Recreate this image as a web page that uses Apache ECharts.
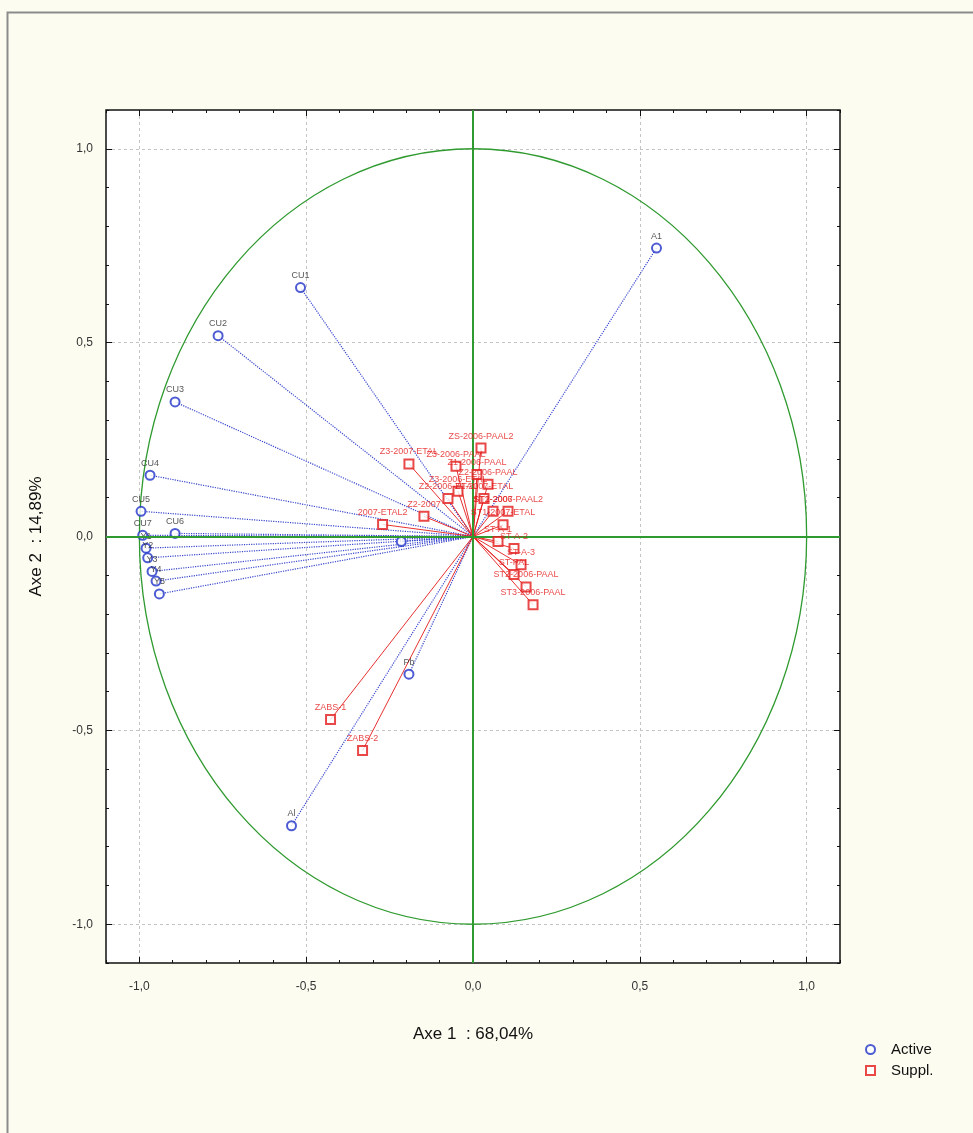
<!DOCTYPE html>
<html><head><meta charset="utf-8">
<script src="https://cdn.jsdelivr.net/npm/echarts@6/dist/echarts.min.js"></script>
<style>html,body{margin:0;padding:0;background:#fdfcf1}#c{width:973px;height:1133px}</style>
</head><body><div id="c"></div>
<script>
// ---- data ----
const tickValues = [-1, -0.5, 0, 0.5, 1];
const tickLabels = ['-1,0', '-0,5', '0,0', '0,5', '1,0'];
const minorTickValues = [-1.1, -1.0, -0.9, -0.8, -0.7, -0.6, -0.5, -0.4, -0.3, -0.2, -0.1, 0,
  0.1, 0.2, 0.3, 0.4, 0.5, 0.6, 0.7, 0.8, 0.9, 1.0, 1.1];
const xTitle = 'Axe 1  : 68,04%';
const yTitle = 'Axe 2  : 14,89%';
const circleRadius = [1];

const activeNames = ['A1', 'CU1', 'CU2', 'CU3', 'CU4', 'CU5', 'CU6', 'CU7', 'Y1', 'Y2', 'Y3', 'Y4', 'Y5', 'Mn', 'Pb', 'Al'];
const activeX = [0.55, -0.517, -0.764, -0.893, -0.968, -0.995, -0.893, -0.99, -0.98, -0.975, -0.962, -0.95, -0.94, -0.215, -0.192, -0.544];
const activeY = [0.744, 0.642, 0.518, 0.347, 0.158, 0.065, 0.008, 0.003, -0.03, -0.055, -0.09, -0.115, -0.148, -0.013, -0.355, -0.746];

const supplNames = ['ZABS-1', 'ZABS-2', 'Z3-2007-ETAL', '2007-ETAL2', 'Z2-2007', 'Z3-2006-PAAL', 'ZS-2006-PAAL2',
  'Z2-2006-PAAL', 'Z1-2007-ETAL', 'ST1-2006-PAAL2', 'ST2-2007', 'ST-A-1', 'ST-A-2', 'ST-A-3', 'ST-PAL',
  'ST2-2006-PAAL', 'ST3-2006-PAAL', 'Z2-2006-ETAL', 'Z3-2006-ETAL', 'Z1-2006-PAAL', 'ST1-2007-ETAL'];
const supplX = [-0.427, -0.331, -0.192, -0.271, -0.147, -0.051, 0.024, 0.045, 0.033, 0.105, 0.06, 0.075, 0.123, 0.144, 0.123, 0.159, 0.18, -0.075, -0.045, 0.012, 0.09];
const supplY = [-0.472, -0.552, 0.187, 0.031, 0.052, 0.181, 0.228, 0.135, 0.098, 0.065, 0.065, -0.013, -0.031, -0.073, -0.098, -0.13, -0.176, 0.098, 0.117, 0.16, 0.03];

// ---- styles ----
const BLUE = '#2233c8', RED = '#e41a1a', GREEN = '#2f9a2f';
const FONT = 'Liberation Sans, Arial, sans-serif';

const activeData = activeNames.map((n, i) => ({
  name: n, value: [activeX[i], activeY[i]],
  label: n === 'Mn' ? { show: false } : undefined
}));
const supplData = supplNames.map((n, i) => ({ name: n, value: [supplX[i], supplY[i]] }));
const activeLines = activeNames.map((n, i) => ({ coords: [[0, 0], [activeX[i], activeY[i]]] }));
const supplLines = supplNames.map((n, i) => ({ coords: [[0, 0], [supplX[i], supplY[i]]] }));

function valueAxis(dim, pos, major) {
  return {
    type: 'value', position: pos, min: -1.1, max: 1.1,
    axisLine: { show: false, onZero: false },
    axisTick: { show: true, inside: true, length: major ? 6 : 3, lineStyle: { color: '#111', width: 1 },
      customValues: major ? tickValues : minorTickValues },
    axisLabel: { show: false },
    splitLine: { show: false }
  };
}

const xMain = valueAxis('x', 'bottom', true);
xMain.axisLabel = {
  show: true, customValues: tickValues, margin: 18, fontSize: 12, color: '#333', fontFamily: FONT,
  formatter: v => tickLabels[tickValues.indexOf(v)]
};
xMain.splitLine = { show: true, lineStyle: { color: '#c4c4c4', type: [3, 3], width: 1 } };
xMain.name = xTitle; xMain.nameLocation = 'middle'; xMain.nameGap = 63;
xMain.nameTextStyle = { fontSize: 17, color: '#111', fontFamily: FONT };

const yMain = valueAxis('y', 'left', true);
yMain.axisLabel = {
  show: true, customValues: tickValues, margin: 13, fontSize: 12, color: '#333', fontFamily: FONT,
  formatter: v => tickLabels[tickValues.indexOf(v)]
};
yMain.splitLine = { show: true, lineStyle: { color: '#c4c4c4', type: [3, 3], width: 1 } };
yMain.name = yTitle; yMain.nameLocation = 'middle'; yMain.nameGap = 61;
yMain.nameTextStyle = { fontSize: 17, color: '#111', fontFamily: FONT };

const option = {
  backgroundColor: '#fdfcf1',
  animation: false,
  graphic: [{ type: 'rect', left: 5, top: 10, shape: { width: 990, height: 1140 },
    style: { fill: 'none', stroke: '#8c8c8c', lineWidth: 2 }, silent: true, z: 100 }],
  grid: { left: 106, right: 133, top: 110, bottom: 170, show: true, backgroundColor: '#ffffff',
    borderColor: '#111', borderWidth: 1.5 },
  xAxis: [xMain, valueAxis('x', 'bottom', false), valueAxis('x', 'top', true), valueAxis('x', 'top', false)],
  yAxis: [yMain, valueAxis('y', 'left', false), valueAxis('y', 'right', true), valueAxis('y', 'right', false)],
  legend: {
    orient: 'vertical', left: 860, top: 1037, itemWidth: 9, itemHeight: 9, itemGap: 6,
    textStyle: { fontSize: 15, color: '#111', fontFamily: FONT, padding: [0, 0, 0, 11] },
    data: [{ name: 'Active', icon: 'emptyCircle' }, { name: 'Suppl.', icon: 'emptyRect' }]
  },
  series: [
    {
      type: 'custom', name: 'circle', data: [[0, 0, circleRadius[0]]], silent: true, clip: false, z: 1,
      renderItem: (params, api) => {
        const c = api.coord([api.value(0), api.value(1)]);
        const px = api.coord([api.value(0) + api.value(2), api.value(1)]);
        const py = api.coord([api.value(0), api.value(1) + api.value(2)]);
        return { type: 'ellipse', shape: { cx: c[0], cy: c[1], rx: px[0] - c[0], ry: c[1] - py[1] },
          style: { fill: 'none', stroke: GREEN, lineWidth: 1.3 } };
      },
      markLine: { silent: true, symbol: 'none', label: { show: false },
        lineStyle: { color: GREEN, width: 2, type: 'solid' },
        data: [{ xAxis: 0 }, { yAxis: 0 }] }
    },
    {
      type: 'lines', name: 'activeLines', coordinateSystem: 'cartesian2d', silent: true, z: 2,
      lineStyle: { color: BLUE, width: 1.2, type: 'dotted', opacity: 0.9 },
      data: activeLines
    },
    {
      type: 'lines', name: 'supplLines', coordinateSystem: 'cartesian2d', silent: true, z: 3,
      lineStyle: { color: RED, width: 1, type: 'solid', opacity: 0.9 },
      data: supplLines
    },
    {
      type: 'scatter', name: 'Active', data: activeData, z: 4,
      symbol: 'emptyCircle', symbolSize: 9,
      itemStyle: { color: BLUE, borderColor: BLUE, borderWidth: 1.3 },
      label: { show: true, position: 'top', distance: 2, formatter: '{b}', fontSize: 9, color: '#2a2a2a', fontFamily: FONT }
    },
    {
      type: 'scatter', name: 'Suppl.', data: supplData, z: 5,
      symbol: 'emptyRect', symbolSize: 9,
      itemStyle: { color: RED, borderColor: RED, borderWidth: 1.3 },
      label: { show: true, position: 'top', distance: 2, formatter: '{b}', fontSize: 9, color: RED, fontFamily: FONT }
    }
  ]
};
const chart = echarts.init(document.getElementById('c'));
chart.setOption(option);
</script></body></html>
